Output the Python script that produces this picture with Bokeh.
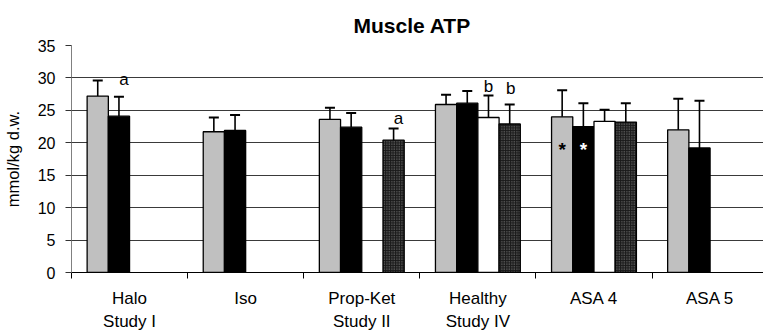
import math
from bokeh.plotting import figure
from bokeh.models import (ColumnDataSource, Range1d, FixedTicker, Whisker, TeeHead)
from bokeh.core.properties import value
from bokeh.embed import file_html
from bokeh.resources import INLINE

# Groups along the x axis
categories = ["Halo\nStudy I", "Iso", "Prop-Ket\nStudy II", "Healthy\nStudy IV", "ASA 4", "ASA 5"]

# Mean muscle ATP (mmol/kg d.w.) and SD for the four measurement series
series_1 = [27.2, 21.7, 23.6, 25.9, 24.0, 22.0]
series_1_sd = [2.4, 2.2, 1.8, 1.5, 4.1, 4.8]
series_2 = [24.1, 21.9, 22.4, 26.1, 22.5, 19.2]
series_2_sd = [3.0, 2.4, 2.2, 1.9, 3.6, 7.3]
series_3 = [None, None, None, 23.9, 23.3, None]
series_3_sd = [None, None, None, 3.4, 1.8, None]
series_4 = [None, None, 20.4, 22.9, 23.2, None]
series_4_sd = [None, None, 1.8, 3.0, 2.9, None]

y_ticks = [0, 5, 10, 15, 20, 25, 30, 35]

# Significance marks: (group, series slot, text, baseline value, colour, x shift px)
marks = [
    (0, 1, "a", 29.7, "black", 5),
    (2, 3, "a", 23.7, "black", 5),
    (3, 2, "b", 28.7, "black", 0),
    (3, 3, "b", 28.4, "black", 1),
    (4, 0, "*", 19.0, "black", 0),
    (4, 1, "*", 19.0, "white", 0),
]

FONT = "Liberation Sans"
BAR_W = 0.1827
SLOT_OFFSETS = [-1.5 * BAR_W, -0.5 * BAR_W, 0.5 * BAR_W, 1.5 * BAR_W]

p = figure(width=763, height=334, output_backend="svg", toolbar_location=None,
           x_range=Range1d(0, 5.96), y_range=Range1d(0, 35),
           min_border_left=70, min_border_right=0, min_border_top=45,
           min_border_bottom=62, background_fill_color="white",
           border_fill_color="white", outline_line_color=None)

p.title.text = "Muscle ATP"
p.title.text_font = FONT
p.title.text_font_size = "21px"
p.title.text_font_style = "bold"
p.title.text_color = "black"
p.title.align = "left"
p.title.offset = 282
p.title.standoff = 18

styles = [
    dict(fill_color="#c0c0c0"),
    dict(fill_color="#000000"),
    dict(fill_color="#ffffff"),
    dict(fill_color="#1a1a1a", hatch_pattern="dot", hatch_color="#8a8a8a",
         hatch_scale=2.5, hatch_weight=1),
]

all_series = [(series_1, series_1_sd), (series_2, series_2_sd),
              (series_3, series_3_sd), (series_4, series_4_sd)]

for slot, ((vals, sds), style) in enumerate(zip(all_series, styles)):
    xs, tops, uppers = [], [], []
    for i, (v, s) in enumerate(zip(vals, sds)):
        if v is None:
            continue
        xs.append(i + 0.5 + SLOT_OFFSETS[slot])
        tops.append(v)
        uppers.append(v + s)
    src = ColumnDataSource(dict(x=xs, top=tops, upper=uppers))
    p.vbar(x="x", top="top", width=BAR_W, bottom=0, source=src,
           line_color="black", line_width=1.3, **style)
    w = Whisker(source=src, base="x", lower="top", upper="upper",
                line_color="black", line_width=1.6, level="overlay",
                upper_head=TeeHead(size=10, line_color="black", line_width=2),
                lower_head=None)
    p.add_layout(w)

# Significance letters
letters = [m for m in marks if m[2] != "*"]
p.text(x=[m[0] + 0.5 + SLOT_OFFSETS[m[1]] for m in letters],
       y=[m[3] for m in letters], text=[m[2] for m in letters],
       text_color=[m[4] for m in letters], x_offset=[m[5] for m in letters],
       text_align="center", text_baseline="alphabetic",
       text_font=value(FONT), text_font_size="17px")

# Asterisks inside the ASA 4 bars
stars = [m for m in marks if m[2] == "*"]
p.text(x=[m[0] + 0.5 + SLOT_OFFSETS[m[1]] for m in stars],
       y=[m[3] for m in stars], text=[m[2] for m in stars],
       text_color=[m[4] for m in stars], x_offset=[m[5] for m in stars],
       text_align="center", text_baseline="alphabetic",
       text_font=value(FONT), text_font_size="19px", text_font_style="bold")

# Y axis
p.yaxis.ticker = FixedTicker(ticks=y_ticks)
p.yaxis.axis_line_color = "#808080"
p.yaxis.major_tick_out = 6
p.yaxis.major_tick_in = 0
p.yaxis.major_tick_line_color = "#333333"
p.yaxis.minor_tick_line_color = None
p.yaxis.major_label_text_font = FONT
p.yaxis.major_label_text_font_size = "16px"
p.yaxis.major_label_text_color = "black"
p.yaxis.major_label_standoff = 10
p.yaxis.axis_label = "mmol/kg d.w."
p.yaxis.axis_label_text_font = FONT
p.yaxis.axis_label_text_font_size = "16.5px"
p.yaxis.axis_label_text_font_style = "normal"
p.yaxis.axis_label_text_color = "black"
p.yaxis.axis_label_standoff = 13

# X axis: group names centred, ticks on group boundaries
p.xaxis.ticker = FixedTicker(ticks=[i + 0.5 for i in range(len(categories))],
                             minor_ticks=list(range(len(categories) + 1)))
p.xaxis.major_label_overrides = {i + 0.5: c for i, c in enumerate(categories)}
p.xaxis.axis_line_color = "black"
p.xaxis.major_tick_line_color = None
p.xaxis.minor_tick_out = 6
p.xaxis.minor_tick_in = 0
p.xaxis.minor_tick_line_color = "black"
p.xaxis.major_label_text_font = FONT
p.xaxis.major_label_text_font_size = "17px"
p.xaxis.major_label_text_color = "black"
p.xaxis.major_label_text_line_height = 1.25
p.xaxis.major_label_standoff = 10

p.xgrid.grid_line_color = None
p.ygrid.ticker = FixedTicker(ticks=y_ticks)
p.ygrid.grid_line_color = "#3a3a3a"
p.ygrid.grid_line_width = 1

open("out.html", "w").write(file_html(p, INLINE))
